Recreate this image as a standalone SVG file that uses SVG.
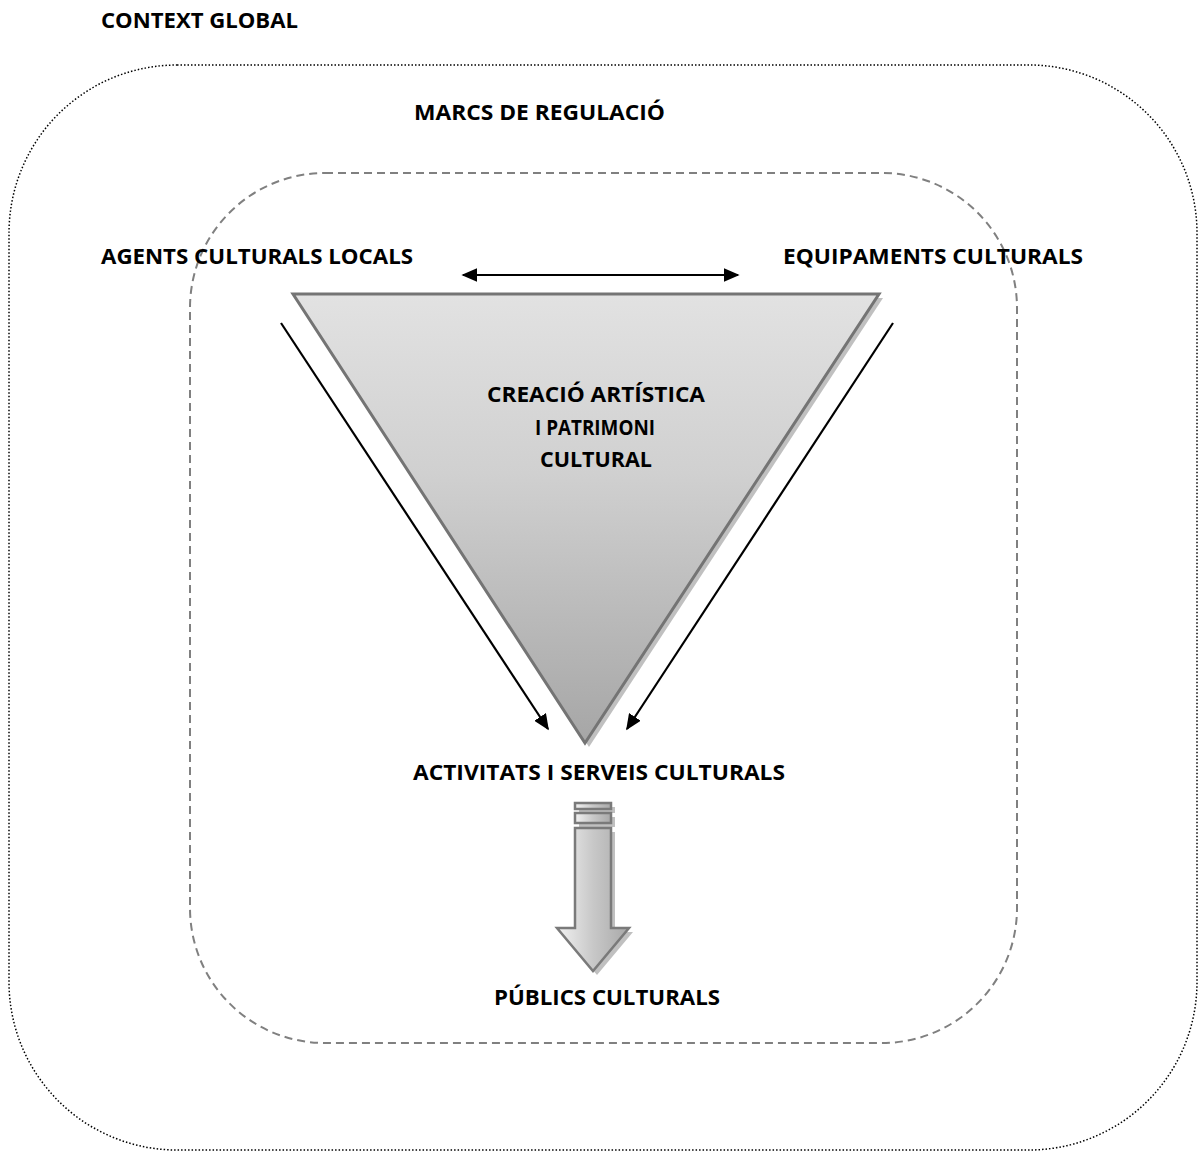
<svg xmlns="http://www.w3.org/2000/svg" width="1198" height="1151" viewBox="0 0 1198 1151">
<defs>
<style>
.t{font-family:"Open Sans","Liberation Sans",sans-serif;font-weight:bold;font-size:21px;fill:#000}
.c{stroke:#000;stroke-width:2.2;fill:none}
</style>
<linearGradient id="tg" x1="0" y1="0" x2="0" y2="1">
<stop offset="0" stop-color="#e2e2e2"/>
<stop offset="0.4" stop-color="#d0d0d0"/>
<stop offset="1" stop-color="#a6a6a6"/>
</linearGradient>
<linearGradient id="ag" x1="0" y1="0" x2="1" y2="0">
<stop offset="0" stop-color="#f2f2f2"/>
<stop offset="0.5" stop-color="#c8c8c8"/>
<stop offset="1" stop-color="#a8a8a8"/>
</linearGradient>
<marker id="ah2" viewBox="0 0 10 10" refX="9" refY="5" markerWidth="16" markerHeight="14" orient="auto-start-reverse" markerUnits="userSpaceOnUse" preserveAspectRatio="none">
<path d="M0,0 L10,5 L0,10 z" fill="#000"/>
</marker>
</defs>
<rect width="1198" height="1151" fill="#fff"/>
<g id="context-global">
<rect x="9" y="65" width="1188" height="1085" rx="168" ry="168" fill="none" stroke="#000" stroke-width="1.5" stroke-dasharray="1.5 2"/>
<text class="t" x="101" y="28" textLength="197" lengthAdjust="spacingAndGlyphs">CONTEXT GLOBAL</text>
</g>
<g id="marcs-regulacio">
<rect x="190" y="173" width="827" height="870" rx="135" ry="135" fill="none" stroke="#808080" stroke-width="2" stroke-dasharray="8 5"/>
<text class="t" x="414" y="120" textLength="251" lengthAdjust="spacingAndGlyphs">MARCS DE REGULACIÓ</text>
</g>
<g id="agents">
<text class="t" x="101" y="264" textLength="312" lengthAdjust="spacingAndGlyphs">AGENTS CULTURALS LOCALS</text>
</g>
<g id="equipaments">
<text class="t" x="783" y="264" textLength="300" lengthAdjust="spacingAndGlyphs">EQUIPAMENTS CULTURALS</text>
</g>
<g id="creacio">
<polygon points="297,298 883,298 589,747" fill="#c0c0c0"/>
<polygon points="293,294 879,294 585,743" fill="url(#tg)" stroke="#747474" stroke-width="3" stroke-linejoin="miter"/>
<text class="t" x="487" y="402" textLength="218" lengthAdjust="spacingAndGlyphs">CREACIÓ ARTÍSTICA</text>
<text class="t" x="535" y="435" textLength="120" lengthAdjust="spacingAndGlyphs">I PATRIMONI</text>
<text class="t" x="540" y="467" textLength="112" lengthAdjust="spacingAndGlyphs">CULTURAL</text>
</g>
<g id="activitats">
<text class="t" x="413" y="780" textLength="372" lengthAdjust="spacingAndGlyphs">ACTIVITATS I SERVEIS CULTURALS</text>
</g>
<g id="publics">
<text class="t" x="494" y="1005" textLength="226" lengthAdjust="spacingAndGlyphs">PÚBLICS CULTURALS</text>
</g>
<g id="connectors">
<line class="c" x1="463" y1="275" x2="738" y2="275" marker-start="url(#ah2)" marker-end="url(#ah2)"/>
<line class="c" x1="281" y1="323" x2="548" y2="729" marker-end="url(#ah2)"/>
<line class="c" x1="893" y1="323" x2="627" y2="729" marker-end="url(#ah2)"/>
<g id="block-arrow">
<path d="M579,807 h36 v6 h-36 z M579,817 h36 v10 h-36 z M579,832 h36 v100 h18 l-36,43 l-36,-43 h18 z" fill="#c0c0c0"/>
<rect x="575" y="803" width="36" height="6" fill="url(#ag)" stroke="#7a7a7a" stroke-width="2.5"/>
<rect x="575" y="813" width="36" height="10" fill="url(#ag)" stroke="#7a7a7a" stroke-width="2.5"/>
<path d="M575,828 h36 v100 h18 l-36,43 l-36,-43 h18 z" fill="url(#ag)" stroke="#7a7a7a" stroke-width="2.5" stroke-linejoin="miter"/>
</g>
</g>
</svg>
